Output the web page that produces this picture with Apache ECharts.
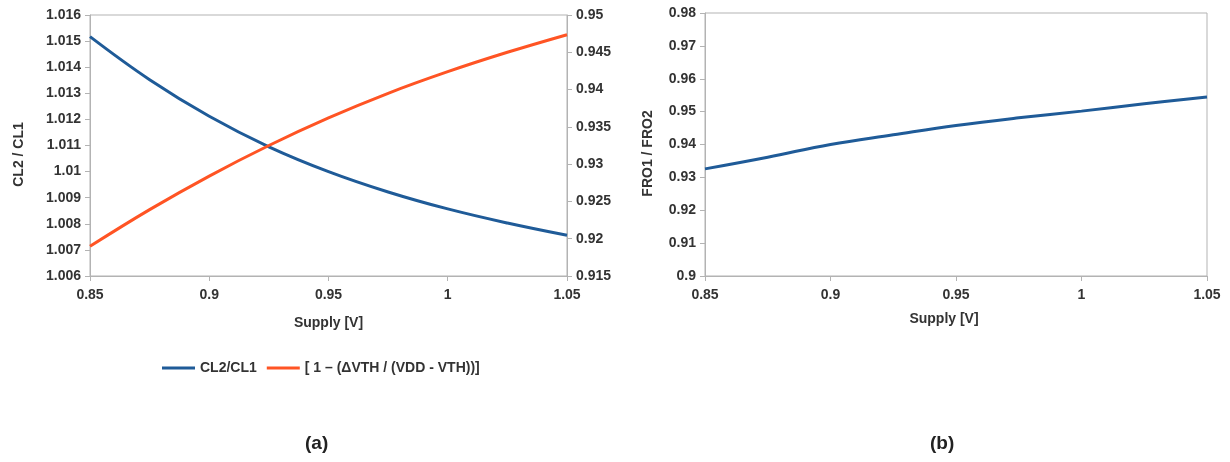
<!DOCTYPE html>
<html>
<head>
<meta charset="utf-8">
<script src="https://cdn.jsdelivr.net/npm/echarts@6/dist/echarts.min.js"></script>
<style>
html,body{margin:0;padding:0;background:#fff;}
#chart{width:1230px;height:462px;}
</style>
</head>
<body>
<div id="chart"></div>
<script>
// Supply voltage samples [V]
const supply = [0.85, 0.875, 0.9, 0.925, 0.95, 0.975, 1.0, 1.025, 1.05];
// (a) CL2/CL1 (left axis)
const cl2cl1 = [1.01517, 1.01352, 1.01212, 1.01095, 1.01000, 1.00922, 1.00857, 1.00803, 1.00756];
// (a) [1 - (dVTH / (VDD - VTH))] (right axis)
const vthTerm = [0.91898, 0.92390, 0.92840, 0.93250, 0.93620, 0.93950, 0.94240, 0.94500, 0.94736];
// (b) FRO1/FRO2
const fro = [0.93259, 0.93614, 0.94000, 0.94294, 0.94579, 0.94812, 0.95015, 0.95239, 0.95442];

const xTicks = ['0.85', '0.9', '0.95', '1', '1.05'];
const panelLabels = ['(a)', '(b)'];
const seriesNames = ['CL2/CL1', '[ 1 – (ΔVTH / (VDD - VTH))]'];

const BLUE = '#1f5b98';
const ORANGE = '#ff5424';
const AXIS = '#b3b3b3';
const TXT = '#333333';
const FONT = '"Liberation Sans", Arial, sans-serif';

const pair = (xs, ys) => xs.map((x, i) => [x, ys[i]]);
const fmt = (d) => v => String(parseFloat(v.toFixed(d)));

const labelStyle = {color: TXT, fontFamily: FONT, fontWeight: 'bold', fontSize: 14};
const nameStyle = {color: TXT, fontFamily: FONT, fontWeight: 'bold', fontSize: 14};

function xAxisFor(gridIndex, gap, padding) {
  return {
    type: 'value', gridIndex, min: 0.85, max: 1.05, interval: 0.05,
    axisLine: {show: true, lineStyle: {color: AXIS, width: 1}},
    axisTick: {show: true, length: 5, lineStyle: {color: AXIS}},
    splitLine: {show: false},
    axisLabel: Object.assign({margin: 12, formatter: fmt(2)}, labelStyle),
    name: 'Supply [V]', nameLocation: 'middle', nameGap: gap,
    nameTextStyle: Object.assign({padding: padding}, nameStyle)
  };
}
function yAxisFor(gridIndex, min, max, interval, pos, name, gap, dec) {
  return {
    type: 'value', gridIndex, min, max, interval, position: pos,
    axisLine: {show: true, lineStyle: {color: AXIS, width: 1}},
    axisTick: {show: true, length: 5, lineStyle: {color: AXIS}},
    splitLine: {show: false},
    axisLabel: Object.assign({margin: 9, formatter: fmt(dec)}, labelStyle),
    name: name, nameLocation: 'middle', nameGap: gap, nameRotate: 90,
    nameTextStyle: Object.assign({padding: [0, 18, 0, 0]}, nameStyle)
  };
}

const chart = echarts.init(document.getElementById('chart'));
chart.setOption({
  backgroundColor: '#ffffff',
  animation: false,
  grid: [
    {left: 90, top: 15, width: 477, height: 261, show: true, borderColor: AXIS, borderWidth: 1, backgroundColor: 'transparent'},
    {left: 705, top: 13, width: 502, height: 263, show: true, borderColor: AXIS, borderWidth: 1, backgroundColor: 'transparent'}
  ],
  xAxis: [xAxisFor(0, 40, [0, 0, 0, 0]), xAxisFor(1, 36, [0, 24, 0, 0])],
  yAxis: [
    yAxisFor(0, 1.006, 1.016, 0.001, 'left', 'CL2 / CL1', 64, 3),
    yAxisFor(0, 0.915, 0.95, 0.005, 'right', '', 0, 3),
    yAxisFor(1, 0.9, 0.98, 0.01, 'left', 'FRO1 / FRO2', 50, 2)
  ],
  legend: {
    left: 157, top: 356,
    icon: 'rect',
    itemWidth: 33, itemHeight: 3, itemGap: 10,
    textStyle: {color: TXT, fontFamily: FONT, fontWeight: 'bold', fontSize: 14},
    data: seriesNames
  },
  series: [
    {name: seriesNames[0], type: 'line', xAxisIndex: 0, yAxisIndex: 0, data: pair(supply, cl2cl1),
     smooth: 0.4, symbol: 'none', lineStyle: {color: BLUE, width: 3}, itemStyle: {color: BLUE}},
    {name: seriesNames[1], type: 'line', xAxisIndex: 0, yAxisIndex: 1, data: pair(supply, vthTerm),
     smooth: 0.4, symbol: 'none', lineStyle: {color: ORANGE, width: 3}, itemStyle: {color: ORANGE}},
    {name: 'FRO1/FRO2', type: 'line', xAxisIndex: 1, yAxisIndex: 2, data: pair(supply, fro),
     smooth: 0.4, symbol: 'none', lineStyle: {color: BLUE, width: 3}, itemStyle: {color: BLUE}}
  ],
  graphic: [
    {type: 'text', left: 305, top: 434, style: {text: panelLabels[0], fill: '#222', font: 'bold 19px "Liberation Sans Narrow", "Liberation Sans", sans-serif'}},
    {type: 'text', left: 930, top: 434, style: {text: panelLabels[1], fill: '#222', font: 'bold 19px "Liberation Sans Narrow", "Liberation Sans", sans-serif'}}
  ]
});
</script>
</body>
</html>
